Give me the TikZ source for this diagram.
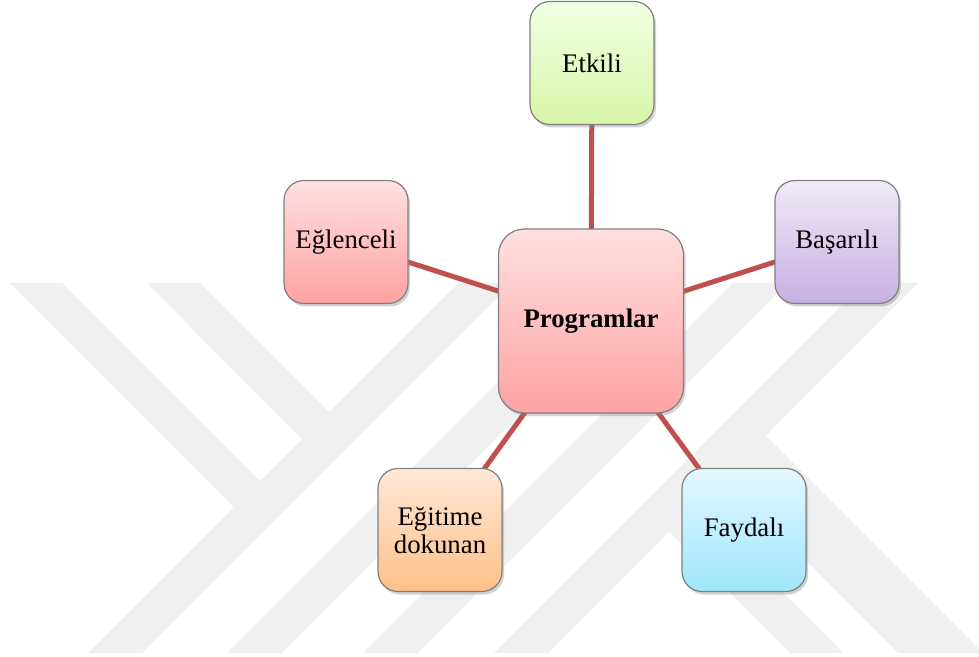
\documentclass[tikz,border=0pt]{standalone}
\usepackage{fontspec}
\setmainfont{Liberation Serif}
\usetikzlibrary{shadows,backgrounds}

\definecolor{linkred}{RGB}{192,80,77}
\definecolor{progtop}{RGB}{255,224,224}
\definecolor{progbot}{RGB}{255,162,162}
\definecolor{etktop}{RGB}{242,255,228}
\definecolor{etkbot}{RGB}{214,246,168}
\definecolor{bastop}{RGB}{240,234,247}
\definecolor{basbot}{RGB}{198,176,226}
\definecolor{egttop}{RGB}{255,232,216}
\definecolor{egtbot}{RGB}{255,192,136}
\definecolor{faytop}{RGB}{228,248,255}
\definecolor{faybot}{RGB}{158,230,250}

\begin{document}
\begin{tikzpicture}[x=0.5pt,y=-0.5pt,
  box/.style={draw=black!50,line width=0.6pt,rounded corners=10pt,
    minimum width=62pt,minimum height=61.5pt,align=center,
    font=\fontsize{13.4}{14}\selectfont,
    drop shadow={shadow xshift=1pt,shadow yshift=-1.5pt,opacity=0.35}},
  hub/.style={box,minimum width=92.5pt,minimum height=92pt,rounded corners=13pt,
    font=\fontsize{13.4}{14}\selectfont\bfseries},
  link/.style={draw=linkred,line width=2.5pt},
  band/.style={fill=black!6}]
  \useasboundingbox (0,0) rectangle (979,657);

  \node[hub,top color=progtop,bottom color=progbot] (prog) at (591,321) {Programlar};
  \node[box,top color=etktop,bottom color=etkbot] (etk) at (592,63) {Etkili};
  \node[box,top color=progtop,bottom color=progbot] (egl) at (346,242) {Eğlenceli};
  \node[box,top color=bastop,bottom color=basbot] (bas) at (837,242) {Başarılı};
  \node[box,top color=egttop,bottom color=egtbot] (egt) at (440,530) {Eğitime\\dokunan};
  \node[box,top color=faytop,bottom color=faybot] (fay) at (744,530) {Faydalı};

  \begin{scope}[on background layer]
    \fill[white] (0,0) rectangle (979,657);
    % watermark
    \foreach \u in {741,880,1016,1147} {
      \fill[band] ({\u-653},653) -- ({\u+54-653},653) -- ({\u+54-283},283) -- ({\u-283},283) -- cycle;
    }
    \fill[band] (10,283) -- (62,283) -- (260,481) -- (234,507) -- cycle;
    \fill[band] (147,283) -- (200,283) -- (329,412) -- (302,439) -- cycle;
    \fill[band] (695,505) -- (843,653) -- (790,653) -- (669,532) -- cycle;
    \fill[band] (765,435) -- (983,653) -- (898,653) -- (723,478) -- cycle;
    % links
    \foreach \n in {etk,egl,bas,egt,fay} {
      \draw[link] (prog.center) -- (\n.center);
    }
  \end{scope}
\end{tikzpicture}
\end{document}
